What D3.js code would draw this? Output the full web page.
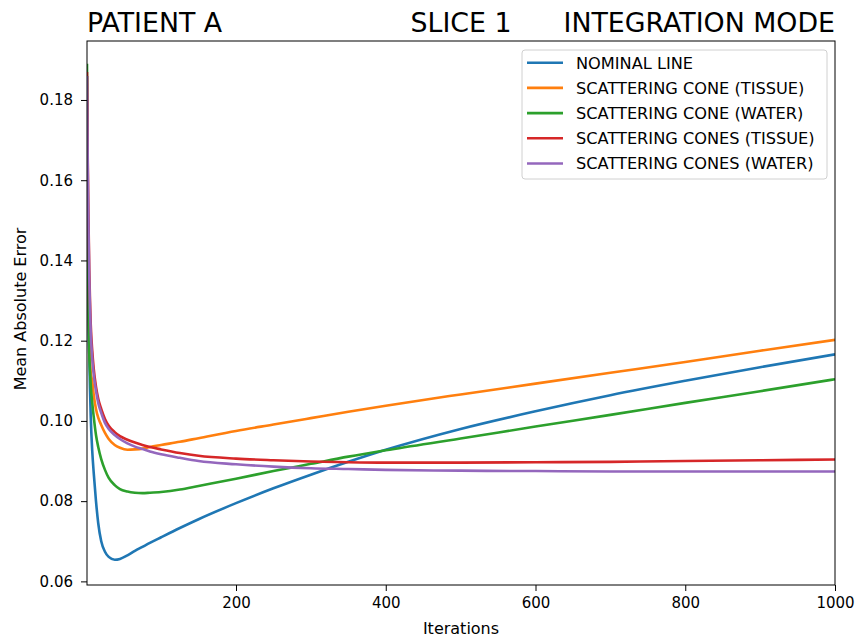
<!DOCTYPE html>
<html>
<head>
<meta charset="utf-8">
<script src="https://cdn.jsdelivr.net/npm/d3@7"></script>
<style>
    body { margin: 0; background: #fff; }
    svg { display: block; font-family: "DejaVu Sans", sans-serif; }
</style>
</head>
<body>
<div id="chart"></div>
<script>
"use strict";

// values
var iterations = [1, 2, 3, 4, 5, 6, 8, 10, 13, 16, 20, 25, 30, 38, 45, 55, 65, 75, 85, 100,
    125, 150, 200, 250, 300, 350, 400, 500, 600, 700, 800, 900, 1000];

var nominalLine = [0.186, 0.150, 0.128, 0.117, 0.108, 0.101, 0.0925, 0.0870, 0.0800, 0.0745, 0.0700, 0.0674, 0.0661, 0.0654, 0.0656, 0.0665, 0.0676, 0.0686, 0.0696, 0.0710,
    0.0733, 0.0755, 0.0795, 0.0832, 0.0866, 0.0898, 0.0928, 0.0980, 0.1024, 0.1064, 0.1100, 0.1134, 0.1166];

var coneTissue = [0.186, 0.150, 0.132, 0.122, 0.116, 0.112, 0.1100, 0.1065, 0.1030, 0.1008, 0.0990, 0.0970, 0.0955, 0.0940, 0.0933, 0.0928, 0.0929, 0.0931, 0.0935, 0.0940,
    0.0948, 0.0957, 0.0975, 0.0991, 0.1007, 0.1023, 0.1038, 0.1066, 0.1093, 0.1120, 0.1147, 0.1175, 0.1202];

var coneWater = [0.189, 0.150, 0.128, 0.117, 0.1125, 0.109, 0.1045, 0.1010, 0.0965, 0.0935, 0.0905, 0.0878, 0.0858, 0.0840, 0.0830, 0.0824, 0.0821, 0.0820, 0.0821, 0.0823,
    0.0829, 0.0838, 0.0856, 0.0875, 0.0893, 0.0911, 0.0927, 0.0956, 0.0986, 0.1015, 0.1045, 0.1074, 0.1104];

var conesTissue = [0.187, 0.165, 0.150, 0.138, 0.130, 0.124, 0.1175, 0.1130, 0.1085, 0.1055, 0.1030, 0.1005, 0.0988, 0.0972, 0.0962, 0.0953, 0.0946, 0.0940, 0.0935, 0.0929,
    0.0920, 0.0913, 0.0906, 0.0902, 0.0899, 0.0897, 0.0896, 0.0896, 0.0897, 0.0898, 0.0900, 0.0902, 0.0904];

var conesWater = [0.186, 0.163, 0.148, 0.136, 0.128, 0.122, 0.1155, 0.1115, 0.1075, 0.1045, 0.1020, 0.0995, 0.0980, 0.0965, 0.0955, 0.0944, 0.0936, 0.0930, 0.0924, 0.0917,
    0.0908, 0.0900, 0.0892, 0.0886, 0.0882, 0.0880, 0.0878, 0.0876, 0.0875, 0.0874, 0.0874, 0.0874, 0.0874];

var seriesNames = ["NOMINAL LINE", "SCATTERING CONE (TISSUE)", "SCATTERING CONE (WATER)",
    "SCATTERING CONES (TISSUE)", "SCATTERING CONES (WATER)"];
var seriesColors = ["#1f77b4", "#ff7f0e", "#2ca02c", "#d62728", "#9467bd"];
var xTicks = [200, 400, 600, 800, 1000];
var yTicks = [0.06, 0.08, 0.10, 0.12, 0.14, 0.16, 0.18];

var series = [nominalLine, coneTissue, coneWater, conesTissue, conesWater].map((vals, i) => ({
    name: seriesNames[i],
    color: seriesColors[i],
    values: vals.map((v, j) => ({ it: iterations[j], mae: v }))
}));

var W = 855, H = 637;
var margin = { top: 41, right: 20, bottom: 52, left: 87 };
var width = W - margin.left - margin.right;
var height = H - margin.top - margin.bottom;

var svg = d3.select("#chart")
    .append("svg")
    .attr("width", W)
    .attr("height", H);

var g = svg.append("g")
    .attr("transform", `translate(${margin.left},${margin.top})`);

// scales
var x = d3.scaleLinear()
    .domain([1, 1000])
    .range([0, width]);

var y = d3.scaleLinear()
    .domain([0.0591, 0.1947])
    .range([height, 0]);

// clip so lines stay inside the frame
g.append("clipPath")
    .attr("id", "plot-clip")
    .append("rect")
    .attr("width", width)
    .attr("height", height);

var line = d3.line()
    .x(d => x(d.it))
    .y(d => y(d.mae))
    .curve(d3.curveMonotoneX);

g.append("g")
    .attr("clip-path", "url(#plot-clip)")
    .selectAll("path")
    .data(series)
    .join("path")
    .attr("fill", "none")
    .attr("stroke", d => d.color)
    .attr("stroke-width", 2.6)
    .attr("stroke-linejoin", "round")
    .attr("d", d => line(d.values));

// axes
var xAxis = g.append("g")
    .attr("transform", `translate(0,${height})`)
    .call(d3.axisBottom(x).tickValues(xTicks).tickSize(6).tickPadding(6).tickFormat(d3.format("d")));

var yAxis = g.append("g")
    .call(d3.axisLeft(y).tickValues(yTicks).tickSize(6).tickPadding(8).tickFormat(d3.format(".2f")));

[xAxis, yAxis].forEach(ax => {
    ax.select(".domain").remove();
    ax.selectAll("line").attr("stroke", "#000");
    ax.selectAll("text")
        .attr("fill", "#000")
        .style("font-size", "15px")
        .style("font-family", "DejaVu Sans, sans-serif");
});

// frame
g.append("rect")
    .attr("width", width)
    .attr("height", height)
    .attr("fill", "none")
    .attr("stroke", "#000")
    .attr("stroke-width", 1);

// axis labels
g.append("text")
    .attr("text-anchor", "middle")
    .attr("x", width / 2)
    .attr("y", height + 49)
    .style("font-size", "16px")
    .text("Iterations");

g.append("text")
    .attr("text-anchor", "middle")
    .attr("transform", "rotate(-90)")
    .attr("x", -height / 2 + 4)
    .attr("y", -61)
    .style("font-size", "16px")
    .text("Mean Absolute Error");

// titles: left, centre, right
var titles = [
    { text: "PATIENT A", x: 0, anchor: "start" },
    { text: "SLICE 1", x: width / 2, anchor: "middle" },
    { text: "INTEGRATION MODE", x: width, anchor: "end" }
];

g.selectAll(".title")
    .data(titles)
    .join("text")
    .attr("class", "title")
    .attr("x", d => d.x)
    .attr("y", -9)
    .attr("text-anchor", d => d.anchor)
    .style("font-size", "26.8px")
    .attr("fill", "#000")
    .text(d => d.text);

// legend
var legend = g.append("g")
    .attr("transform", `translate(${522 - margin.left},${50 - margin.top})`);

legend.append("rect")
    .attr("width", 305)
    .attr("height", 129)
    .attr("rx", 3)
    .attr("fill", "#fff")
    .attr("fill-opacity", 0.8)
    .attr("stroke", "#d0d0d0");

var rows = legend.selectAll(".row")
    .data(series)
    .join("g")
    .attr("class", "row")
    .attr("transform", (d, i) => `translate(0,${12.7 + i * 25.2})`);

rows.append("line")
    .attr("x1", 5)
    .attr("x2", 41)
    .attr("stroke", d => d.color)
    .attr("stroke-width", 2.6);

rows.append("text")
    .attr("x", 54)
    .attr("dy", "0.36em")
    .style("font-size", "16.2px")
    .attr("fill", "#000")
    .text(d => d.name);
</script>
</body>
</html>
